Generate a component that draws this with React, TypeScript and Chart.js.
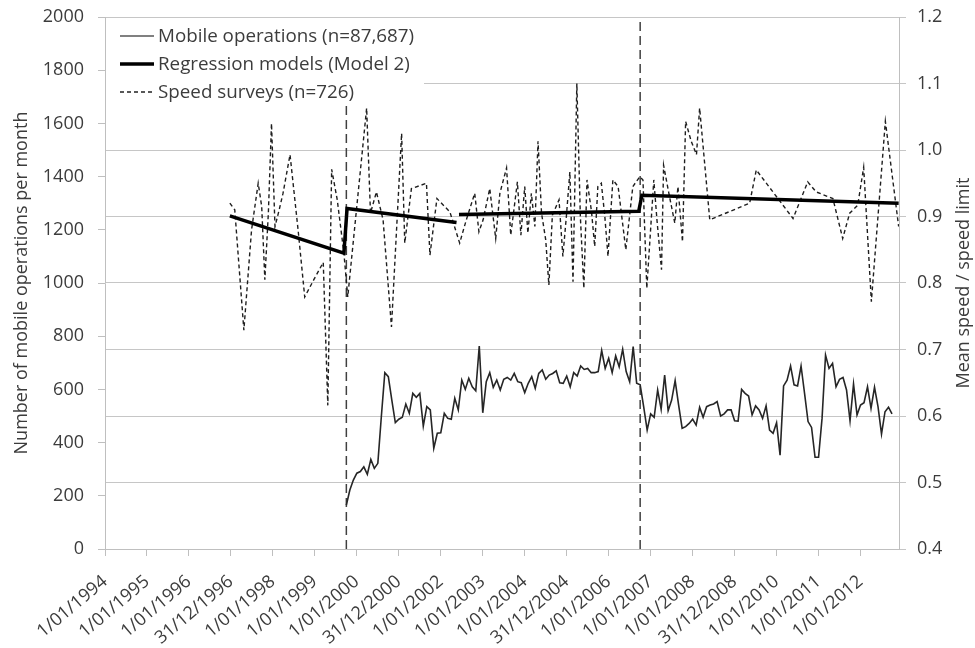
import React, { useEffect, useRef } from "react";
import { Chart, registerables } from "chart.js";

Chart.register(...registerables);

// ---- Data ----
// x unit: months since January 1994
const tickMonths = [0, 12, 24, 36, 48, 60, 72, 84, 96, 108, 120, 132, 144, 156, 168, 180, 192, 204, 216];
const tickLabels = [
  "1/01/1994", "1/01/1995", "1/01/1996", "31/12/1996", "1/01/1998", "1/01/1999", "1/01/2000",
  "31/12/2000", "1/01/2002", "1/01/2003", "1/01/2004", "31/12/2004", "1/01/2006", "1/01/2007",
  "1/01/2008", "31/12/2008", "1/01/2010", "1/01/2011", "1/01/2012",
];

const mobileStartMonth = 69; // October 1999, monthly to October 2012
const mobileOperations = [
  165, 222, 259, 285, 291, 309, 281, 337, 303, 322, 497, 663, 648, 560, 475, 488, 495, 545, 510, 585,
  570, 585, 462, 535, 523, 379, 435, 437, 510, 491, 488, 567, 523, 635, 600, 642, 610, 595, 763, 512,
  629, 663, 608, 635, 598, 638, 645, 635, 660, 629,
  625, 588, 623, 648, 604, 660, 673, 638, 654, 660, 670, 625, 623, 650, 610, 663, 650, 688, 675, 679,
  663, 663, 667, 746, 679, 717, 663, 726, 685, 751, 667, 629, 761, 623, 617, 535, 447, 508, 495, 598,
  525, 654, 520, 560, 633, 541, 454, 460,
  472, 488, 466, 533, 495, 535, 541, 545, 554, 500, 508, 523, 523, 482, 481, 600, 585, 575, 504, 538,
  523, 491, 538, 447, 435, 475, 353, 613, 635, 688, 617, 613, 688, 585, 479, 457, 345, 345, 491, 729,
  679, 698, 610, 638, 645, 598, 482, 620, 504, 541, 550, 610, 529, 608, 535, 432, 516, 533, 508,
];

const speedMonths = [
  35.7, 37.1, 39.7, 41.9, 43.8, 44.8, 45.7, 46.7, 47.6, 48.6, 49.8, 50.9, 52.9, 55.2, 57.1, 59.7,
  62.4, 63.7, 64.8, 66.4, 68.3, 69.4, 74.8, 75.9, 77.6, 79.5, 81.9, 84.8, 85.7, 87.6, 91.9, 92.9,
  94.9, 98.6, 101.4, 103.3, 105.7, 106.9, 108.1, 110.0, 111.7, 112.9, 114.8, 116.0, 117.9, 118.9,
  120.0, 120.9, 121.9, 122.9, 123.8, 124.8, 126.0, 126.9, 127.9, 129.8, 130.9, 131.9, 132.9, 133.8,
  134.9, 135.9, 136.9, 137.8, 139.1, 140.0, 140.9, 141.9, 142.9, 143.8, 145.2, 146.7, 148.9, 150.9,
  152.9, 153.8, 154.9, 156.9, 157.8, 159.1, 159.7, 161.2, 162.9, 163.8, 165.1, 166.0, 167.6, 169.1,
  170.0, 172.9, 184.3, 186.2, 196.7, 200.9, 203.3, 208.1, 210.9, 212.9, 215.2, 216.9, 219.1, 223.1,
  226.9,
];
const speedValues = [
  0.920, 0.910, 0.729, 0.880, 0.950, 0.915, 0.805, 0.905, 1.040, 0.885, 0.910, 0.935, 0.993, 0.880, 0.779, 0.805,
  0.831, 0.616, 0.971, 0.925, 0.845, 0.779, 1.063, 0.905, 0.937, 0.895, 0.734, 1.025, 0.860, 0.942, 0.950, 0.842,
  0.927, 0.907, 0.860, 0.895, 0.935, 0.877, 0.895, 0.942, 0.867, 0.935, 0.973, 0.872, 0.952, 0.872,
  0.945, 0.875, 0.935, 0.885, 1.013, 0.905, 0.865, 0.797, 0.902, 0.925, 0.840, 0.900, 0.967, 0.802,
  1.100, 0.900, 0.792, 0.955, 0.907, 0.855, 0.945, 0.950, 0.900, 0.840, 0.955, 0.945, 0.850, 0.945,
  0.960, 0.955, 0.792, 0.955, 0.895, 0.820, 0.977, 0.935, 0.890, 0.945, 0.862, 1.043, 1.013, 0.993,
  1.063, 0.895, 0.920, 0.970, 0.897, 0.952, 0.937, 0.927, 0.867, 0.905, 0.917, 0.974, 0.772, 1.043,
  0.885,
];

// Regression model (Model 2); null marks the break between segments
const regressionMonths = [35.7, 68.3, 69.2, 100.5, 100.8, 101.2, 152.6, 153.5, 226.9];
const regressionValues = [0.901, 0.845, 0.912, 0.891, null, 0.903, 0.908, 0.932, 0.920];

const interventionMonths = [69, 153];

const legendLabels = ["Mobile operations (n=87,687)", "Regression models (Model 2)", "Speed surveys (n=726)"];
const leftTitle = "Number of mobile operations per month";
const rightTitle = "Mean speed / speed limit";

// ---- Styles ----
const FONT_FAMILY = "'Open Sans', sans-serif";
const FONT_SIZE = 18;
const LEGEND_FONT_SIZE = 18.8;
const TEXT = "#3c3c3c";
const AXIS = "#bfbfbf";
const GRID = "#c6c6c6";

const legendPlugin = {
  id: "boxLegend",
  afterDatasetsDraw(chart: any) {
    const { ctx, chartArea } = chart;
    ctx.save();
    ctx.fillStyle = "#ffffff";
    ctx.fillRect(chartArea.left + 1, chartArea.top + 1, 318, 88);
    const styles = [
      { color: "#808080", width: 2, dash: [] as number[] },
      { color: "#000000", width: 3.5, dash: [] as number[] },
      { color: "#222222", width: 1.4, dash: [4, 3] },
    ];
    ctx.font = `${LEGEND_FONT_SIZE}px ${FONT_FAMILY}`;
    ctx.textBaseline = "middle";
    ctx.textAlign = "left";
    legendLabels.forEach((label, i) => {
      const y = chartArea.top + 19 + i * 28;
      const s = styles[i];
      ctx.beginPath();
      ctx.setLineDash(s.dash);
      ctx.lineWidth = s.width;
      ctx.strokeStyle = s.color;
      ctx.moveTo(chartArea.left + 15, y);
      ctx.lineTo(chartArea.left + 49, y);
      ctx.stroke();
      ctx.setLineDash([]);
      ctx.fillStyle = TEXT;
      ctx.fillText(label, chartArea.left + 53, y + 1);
    });
    ctx.restore();
  },
};

const rightTitlePlugin = {
  id: "rightTitle",
  afterDraw(chart: any) {
    const { ctx, chartArea } = chart;
    ctx.save();
    ctx.translate(964, (chartArea.top + chartArea.bottom) / 2);
    ctx.rotate(-Math.PI / 2);
    ctx.font = `${FONT_SIZE}px ${FONT_FAMILY}`;
    ctx.fillStyle = TEXT;
    ctx.textAlign = "center";
    ctx.textBaseline = "middle";
    ctx.fillText(rightTitle, 0, 0);
    ctx.restore();
  },
};

const fitVertical = (width: number) => (axis: any) => {
  axis.width = width;
  axis.paddingTop = 0;
  axis.paddingBottom = 0;
};

export default function App() {
  const canvasRef = useRef<HTMLCanvasElement | null>(null);

  useEffect(() => {
    document.body.style.margin = "0";
    const canvas = canvasRef.current;
    if (!canvas) return;

    const mobileData = mobileOperations.map((v, i) => ({ x: mobileStartMonth + i, y: v }));
    const speedData = speedMonths.map((m, i) => ({ x: m, y: speedValues[i] }));
    const regressionData = regressionMonths.map((m, i) => ({ x: m, y: regressionValues[i] }));
    const verticalSets = interventionMonths.map((m) => ({
      label: "intervention",
      data: [{ x: m, y: 0 }, { x: m, y: 2000 }],
      yAxisID: "y",
      borderColor: "#404040",
      borderWidth: 1.5,
      borderDash: [9, 5],
      pointRadius: 0,
      fill: false,
    }));

    const chart = new Chart(canvas, {
      type: "line",
      data: {
        datasets: [
          {
            label: legendLabels[1],
            data: regressionData as any,
            yAxisID: "y2",
            borderColor: "#000000",
            borderWidth: 3.5,
            pointRadius: 0,
            spanGaps: false,
            fill: false,
          },
          {
            label: legendLabels[0],
            data: mobileData,
            yAxisID: "y",
            borderColor: "#262626",
            borderWidth: 1.6,
            pointRadius: 0,
            fill: false,
          },
          {
            label: legendLabels[2],
            data: speedData,
            yAxisID: "y2",
            borderColor: "#1e1e1e",
            borderWidth: 1.4,
            borderDash: [4, 3],
            pointRadius: 0,
            fill: false,
          },
          ...verticalSets,
        ] as any,
      },
      options: {
        responsive: false,
        animation: false,
        events: [],
        layout: { padding: { top: 17, left: 0, right: 0, bottom: 0 } },
        plugins: {
          legend: { display: false },
          tooltip: { enabled: false },
        },
        elements: { line: { tension: 0 } },
        scales: {
          x: {
            type: "linear",
            min: 0,
            max: 227,
            afterBuildTicks: (axis: any) => {
              axis.ticks = tickMonths.map((v) => ({ value: v }));
            },
            afterFit: (axis: any) => {
              axis.height = 99;
            },
            ticks: {
              autoSkip: false,
              maxRotation: 40,
              minRotation: 40,
              padding: 15,
              color: TEXT,
              font: { family: FONT_FAMILY, size: FONT_SIZE },
              callback: (_v: any, i: number) => tickLabels[i],
            },
            grid: { drawOnChartArea: false, drawTicks: true, tickLength: 7, color: AXIS },
            border: { color: AXIS },
          },
          y: {
            type: "linear",
            position: "left",
            min: 0,
            max: 2000,
            afterFit: fitVertical(105),
            ticks: {
              stepSize: 200,
              padding: 14,
              color: TEXT,
              font: { family: FONT_FAMILY, size: FONT_SIZE },
              callback: (v: any) => String(v),
            },
            title: {
              display: true,
              text: leftTitle,
              color: TEXT,
              font: { family: FONT_FAMILY, size: FONT_SIZE },
              padding: { top: 11, bottom: 0 },
            },
            grid: { drawOnChartArea: false, drawTicks: true, tickLength: 7, color: AXIS },
            border: { color: AXIS },
          },
          y2: {
            type: "linear",
            position: "right",
            min: 0.4,
            max: 1.2,
            afterFit: fitVertical(76),
            ticks: {
              stepSize: 0.1,
              padding: 11,
              color: TEXT,
              font: { family: FONT_FAMILY, size: FONT_SIZE },
              callback: (v: any) => Number(v).toFixed(1),
            },
            grid: { drawOnChartArea: true, drawTicks: true, tickLength: 7, color: GRID },
            border: { color: AXIS },
          },
        },
      } as any,
      plugins: [legendPlugin, rightTitlePlugin],
    });

    return () => chart.destroy();
  }, []);

  return (
    <div style={{ width: 975, height: 648 }}>
      <canvas ref={canvasRef} width={975} height={648} />
    </div>
  );
}
